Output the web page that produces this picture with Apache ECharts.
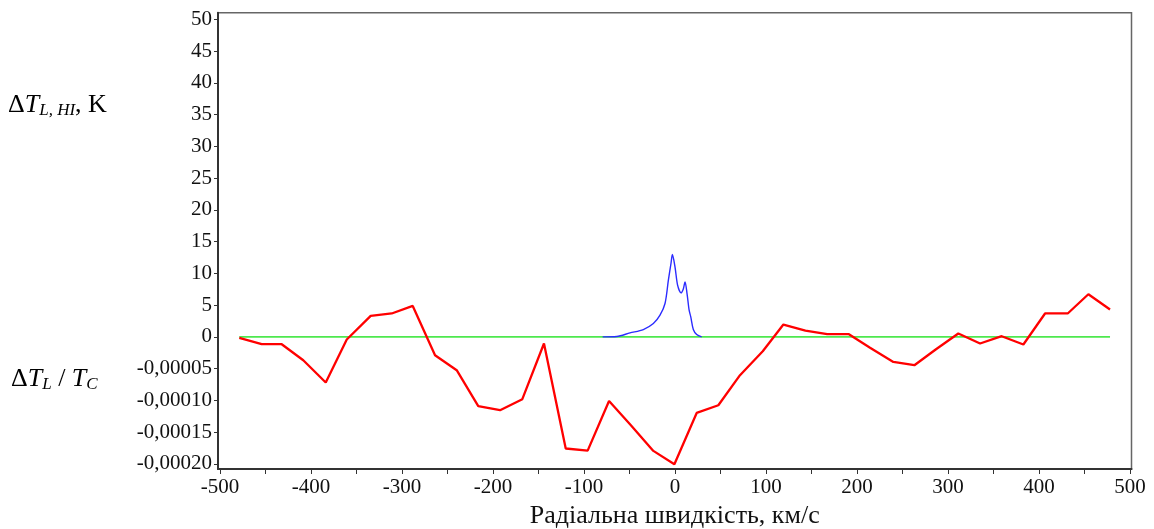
<!DOCTYPE html>
<html>
<head>
<meta charset="utf-8">
<script src="https://cdn.jsdelivr.net/npm/echarts@6/dist/echarts.min.js"></script>
<style>
  html, body { margin: 0; padding: 0; background: #fff; }
  #chart { width: 1154px; height: 529px; }
</style>
</head>
<body>
<div id="chart"></div>
<script>
// Continuum-normalised absorption ΔT_L / T_C (red), per velocity channel, km/s
const ratioVelocity = [
  -478.8, -454.2, -432.2, -408.5, -383.8, -360.7, -334.4, -311.3, -288.2, -263.7,
  -239.9, -216.2, -192.3, -167.8, -144.0, -120.1, -96.0, -72.5, -48.5, -23.8,
  -0.7, 23.8, 47.6, 71.4, 96.4, 119.1, 143.3, 167.2, 191.1, 214.3,
  239.9, 263.0, 286.8, 311.3, 335.2, 359.0, 382.8, 406.6, 431.5, 454.2, 478.0
];
const ratioValue = [
  -0.0000016, -0.0000115, -0.0000115, -0.0000367, -0.0000718, -0.0000041, 0.0000331, 0.0000369, 0.0000488, -0.0000288,
  -0.0000524, -0.0001091, -0.0001154, -0.0000981, -0.0000104, -0.0001757, -0.0001790, -0.0001008, -0.0001390, -0.0001795,
  -0.0002005, -0.0001197, -0.0001076, -0.0000603, -0.0000225, 0.0000195, 0.0000100, 0.0000043, 0.0000043, -0.0000170,
  -0.0000394, -0.0000446, -0.0000194, 0.0000053, -0.0000104, 0.0000011, -0.0000120, 0.0000369, 0.0000369, 0.0000672, 0.0000431
];

// HI line brightness temperature ΔT_L,HI (blue), K
const hiVelocity = [
  -79.5, -64.0, -49.5, -34.8, -23.8, -16.5, -11.0, -7.3, -4.4, -2.9,
  0.0, 2.9, 6.6, 9.2, 11.0, 13.2, 15.5, 17.3, 20.1, 23.8, 29.3
];
const hiValue = [
  0.0, 0.06, 0.63, 1.16, 2.1, 3.42, 5.26, 8.93, 11.6, 12.97,
  11.0, 8.1, 6.93, 7.6, 8.66, 6.83, 4.2, 3.15, 1.16, 0.38, 0.0
];

// 5 K on the upper scale shares a grid step with 0.00005 on the lower one
const K_PER_RATIO = 1e5;

const xTickValues = [-500, -450, -400, -350, -300, -250, -200, -150, -100, -50, 0,
  50, 100, 150, 200, 250, 300, 350, 400, 450, 500];
const xLabelValues = [-500, -400, -300, -200, -100, 0, 100, 200, 300, 400, 500];
const yTickValues = [-20, -15, -10, -5, 0, 5, 10, 15, 20, 25, 30, 35, 40, 45, 50];

const xTitle = 'Радіальна швидкість, км/с';

const serif = '"Liberation Serif", "Times New Roman", serif';

const redData = ratioVelocity.map((v, i) => [v, ratioValue[i] * K_PER_RATIO]);
const blueData = hiVelocity.map((v, i) => [v, hiValue[i]]);
const zeroData = [[ratioVelocity[0], 0], [ratioVelocity[ratioVelocity.length - 1], 0]];

function yLabel(v) {
  if (v >= 0) return String(v);
  return (v / K_PER_RATIO).toFixed(5).replace('.', ',');
}

const titleRich = {
  d: { fontFamily: serif, fontSize: 26, color: '#111', lineHeight: 28 },
  t: { fontFamily: serif, fontStyle: 'italic', fontSize: 26, color: '#111', lineHeight: 28 },
  s: { fontFamily: serif, fontStyle: 'italic', fontSize: 17, color: '#111', lineHeight: 14, verticalAlign: 'bottom' },
  n: { fontFamily: serif, fontSize: 26, color: '#111', lineHeight: 28 }
};

const chart = echarts.init(document.getElementById('chart'), null, { renderer: 'canvas' });

chart.setOption({
  animation: false,
  backgroundColor: '#ffffff',
  grid: {
    left: 218, right: 22.5, top: 12.7, bottom: 60,
    outerBoundsMode: 'none',
    containLabel: false,
    show: true, borderColor: '#666666', borderWidth: 1.5, backgroundColor: 'transparent'
  },
  xAxis: {
    type: 'value',
    min: -502.2, max: 501.6,
    name: xTitle,
    nameLocation: 'middle',
    nameGap: 32,
    nameTextStyle: { fontFamily: serif, fontSize: 26, color: '#111' },
    axisLine: { show: true, onZero: false, lineStyle: { color: '#333', width: 2 } },
    axisTick: { show: true, length: 5, lineStyle: { color: '#333', width: 1 }, customValues: xTickValues },
    axisLabel: {
      customValues: xLabelValues,
      fontFamily: serif, fontSize: 21, color: '#111', margin: 8
    },
    splitLine: { show: false }
  },
  yAxis: {
    type: 'value',
    min: -20.8, max: 51.05,
    axisLine: { show: true, onZero: false, lineStyle: { color: '#333', width: 2 } },
    axisTick: { show: true, length: 4, lineStyle: { color: '#333', width: 1 }, customValues: yTickValues },
    axisLabel: {
      customValues: yTickValues,
      formatter: yLabel,
      fontFamily: serif, fontSize: 21, color: '#111', margin: 6
    },
    splitLine: { show: false }
  },
  graphic: [
    {
      type: 'text', left: 8, top: 92,
      style: { text: '{d|Δ}{t|T}{s|L, HI}{n|, K}', rich: titleRich }
    },
    {
      type: 'text', left: 11, top: 366,
      style: { text: '{d|Δ}{t|T}{s|L}{n| / }{t|T}{s|C}', rich: titleRich }
    }
  ],
  series: [
    {
      name: 'zero', type: 'line', data: zeroData, showSymbol: false,
      lineStyle: { color: '#4ee84e', width: 1.6 }, z: 2
    },
    {
      name: 'ratio', type: 'line', data: redData, showSymbol: false,
      lineStyle: { color: '#ff0000', width: 2.3 }, z: 3
    },
    {
      name: 'hi', type: 'line', data: blueData, showSymbol: false, smooth: 0.3,
      lineStyle: { color: '#2b2bff', width: 1.4 }, z: 4
    }
  ]
});
</script>
</body>
</html>
